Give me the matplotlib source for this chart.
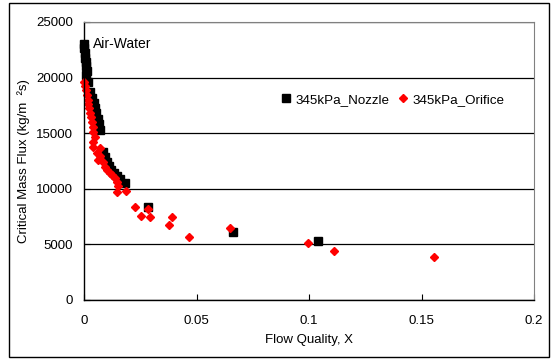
import numpy as np
import matplotlib.pyplot as plt
from matplotlib.patches import Rectangle

plt.rcParams['font.family'] = ['Liberation Sans', 'DejaVu Sans']
plt.rcParams['font.size'] = 9.5

# 345 kPa nozzle data (flow quality, critical mass flux)
nozzle_x = [0.0, 0.0, 0.0005, 0.0005, 0.0009, 0.001, 0.0013, 0.001, 0.0018,
            0.0027, 0.0036, 0.0045, 0.005, 0.0053, 0.0062, 0.0067, 0.0071,
            0.0085, 0.0094, 0.0102, 0.0111, 0.012, 0.0134, 0.0147, 0.016,
            0.0183, 0.0285, 0.0663, 0.1042]
nozzle_g = [22990, 22630, 22180, 21730, 21370, 21010, 20560, 20200, 19580,
            18680, 18140, 17690, 17240, 16790, 16250, 15800, 15270,
            13290, 12840, 12390, 12030, 11670, 11400, 11130, 10870,
            10510, 8350, 6110, 5300]

# 345 kPa orifice data
orifice_x = [0.0, 0.0004, 0.0009, 0.0013, 0.0018, 0.0018, 0.0022, 0.0027,
             0.0031, 0.0036, 0.004, 0.004, 0.0049, 0.004, 0.004, 0.0071,
             0.0058, 0.0071, 0.0062, 0.0085, 0.0094, 0.0102, 0.0116, 0.0125,
             0.0138, 0.0147, 0.0151, 0.0147, 0.0187, 0.0227, 0.0254, 0.0285,
             0.0294, 0.0378, 0.0392, 0.0467, 0.065, 0.0997, 0.1113, 0.1554]
orifice_g = [19580, 19220, 18860, 18410, 17960, 17600, 17240, 16790,
             16430, 15980, 15540, 15090, 14640, 14190, 13740, 13650,
             13200, 12930, 12570, 12390, 11940, 11670, 11400, 11220,
             10960, 10600, 10240, 9700, 9790, 8350, 7540, 8170,
             7450, 6730, 7450, 5660, 6470, 5120, 4400, 3860]

xticks = [0, 0.05, 0.1, 0.15, 0.2]
xticklabels = ['0', '0.05', '0.1', '0.15', '0.2']
yticks = [0, 5000, 10000, 15000, 20000, 25000]

fig = plt.figure(figsize=(5.51, 3.6), dpi=100)
# outer chart border
fig.patches.append(Rectangle((9 / 551, 3 / 360), 540 / 551, 354 / 360,
                             transform=fig.transFigure, fill=False,
                             edgecolor='black', linewidth=1))

ax = fig.add_axes([84 / 551, 1 - 300 / 360, 450 / 551, 278 / 360])
ax.plot(nozzle_x, nozzle_g, linestyle='none', marker='s', ms=5.5,
        color='black', label='345kPa_Nozzle', clip_on=False)
ax.plot(orifice_x, orifice_g, linestyle='none', marker='D', ms=4.5,
        color='#FF0000', label='345kPa_Orifice', clip_on=False)

ax.set_xlim(0, 0.2)
ax.set_ylim(0, 25000)
ax.set_xticks(xticks)
ax.set_xticklabels(xticklabels)
ax.set_yticks(yticks)
ax.yaxis.grid(True, color='black', linewidth=0.9)
ax.set_axisbelow(True)
ax.tick_params(axis='x', direction='in', length=4, pad=11, width=0.8)
ax.tick_params(axis='y', direction='in', length=4, pad=8, width=0.8)
for side in ['top', 'right']:
    ax.spines[side].set_color('#808080')
    ax.spines[side].set_linewidth(0.8)
ax.spines['left'].set_linewidth(1)
ax.spines['bottom'].set_linewidth(1)

ax.set_xlabel('Flow Quality, X', labelpad=5)
ax.set_ylabel('Critical Mass Flux (kg/m  \u00b2s)', labelpad=4)

ax.text(0.004, 23000, 'Air-Water', va='center', ha='left', fontsize=10)

fig.legend(loc='center left', bbox_to_anchor=(281 / 551, 1 - 100 / 360),
           ncol=2, frameon=False, handlelength=0.8, handletextpad=0.3,
           columnspacing=0.6, borderpad=0, borderaxespad=0, fontsize=9.6)

fig.savefig('out.png', dpi=100)
